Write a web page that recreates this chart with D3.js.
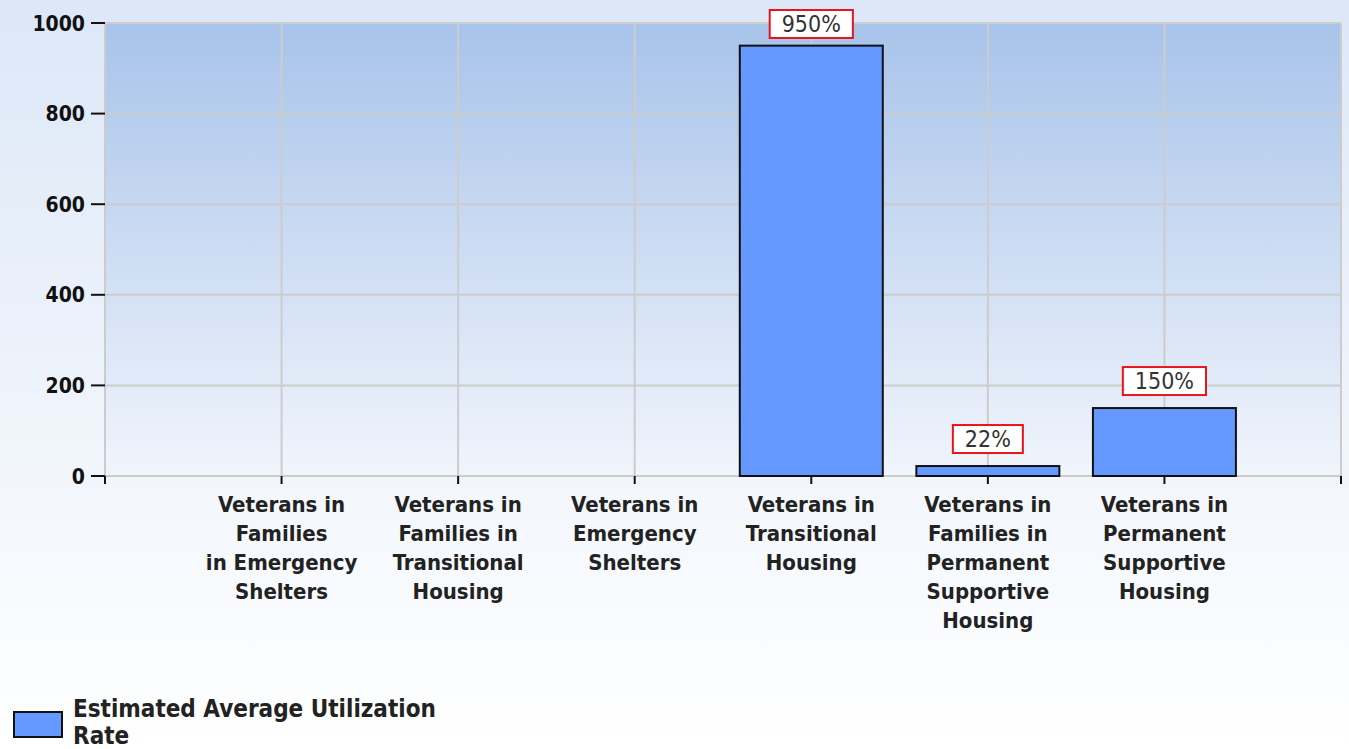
<!DOCTYPE html>
<html>
<head>
<meta charset="utf-8">
<style>
  html, body { margin: 0; padding: 0; }
  svg text { font-family: "DejaVu Sans Condensed", "DejaVu Sans", sans-serif; }
</style>
</head>
<body>
<svg width="1349" height="749"></svg>
<script src="https://d3js.org/d3.v7.min.js"></script>
<script>
const categories = [
  ["Veterans in", "Families", "in Emergency", "Shelters"],
  ["Veterans in", "Families in", "Transitional", "Housing"],
  ["Veterans in", "Emergency", "Shelters"],
  ["Veterans in", "Transitional", "Housing"],
  ["Veterans in", "Families in", "Permanent", "Supportive", "Housing"],
  ["Veterans in", "Permanent", "Supportive", "Housing"]
];
const values = [null, null, null, 950, 22, 150];
const valueLabels = ["", "", "", "950%", "22%", "150%"];
const yTicks = [0, 200, 400, 600, 800, 1000];
const seriesName = ["Estimated Average Utilization", "Rate"];

const svg = d3.select("svg");
const width = +svg.attr("width");
const height = +svg.attr("height");

const defs = svg.append("defs");
const bgGrad = defs.append("linearGradient").attr("id", "bg")
  .attr("x1", 0).attr("y1", 0).attr("x2", 0).attr("y2", 1);
bgGrad.append("stop").attr("offset", "0%").attr("stop-color", "#dce7f7");
bgGrad.append("stop").attr("offset", "100%").attr("stop-color", "#ffffff");
const plotGrad = defs.append("linearGradient").attr("id", "plotbg")
  .attr("x1", 0).attr("y1", 0).attr("x2", 0).attr("y2", 1);
plotGrad.append("stop").attr("offset", "0%").attr("stop-color", "#a8c3ea");
plotGrad.append("stop").attr("offset", "100%").attr("stop-color", "#f1f5fc");

svg.append("rect").attr("width", width).attr("height", height).attr("fill", "url(#bg)");

const pLeft = 105, pRight = 1341, pTop = 23, pBottom = 476;

const x = d3.scaleLinear().domain([0, categories.length + 1]).range([pLeft, pRight]);
const y = d3.scaleLinear().domain([0, 1000]).range([pBottom, pTop]);

svg.append("rect")
  .attr("x", pLeft).attr("y", pTop)
  .attr("width", pRight - pLeft).attr("height", pBottom - pTop)
  .attr("fill", "url(#plotbg)");

// grid
const grid = svg.append("g").attr("stroke", "#cccccc").attr("stroke-width", 2);
grid.selectAll(".h").data(yTicks).enter().append("line")
  .attr("x1", pLeft).attr("x2", pRight)
  .attr("y1", d => y(d)).attr("y2", d => y(d));
grid.selectAll(".v").data(d3.range(0, categories.length + 2)).enter().append("line")
  .attr("x1", d => x(d)).attr("x2", d => x(d))
  .attr("y1", pTop).attr("y2", pBottom);

// bars
const barW = 143;
const bars = categories.map((c, i) => ({ i: i + 1, v: values[i], label: valueLabels[i] }))
  .filter(d => d.v != null);

svg.append("g").selectAll("rect").data(bars).enter().append("rect")
  .attr("x", d => x(d.i) - barW / 2)
  .attr("y", d => y(d.v))
  .attr("width", barW)
  .attr("height", d => y(0) - y(d.v))
  .attr("fill", "#6699ff")
  .attr("stroke", "#111")
  .attr("stroke-width", 2);

// value labels (kept inside the top of the chart)
const lab = svg.append("g").selectAll("g").data(bars).enter().append("g")
  .attr("transform", d => `translate(${x(d.i)},${Math.max(y(d.v) - 27, 24)})`);
const labRect = lab.append("rect")
  .attr("y", -14)
  .attr("height", 28)
  .attr("fill", "#fff")
  .attr("stroke", "#e8141c")
  .attr("stroke-width", 2);
const labText = lab.append("text")
  .attr("text-anchor", "middle")
  .attr("dy", "0.36em")
  .attr("font-size", 23)
  .attr("fill", "#333")
  .text(d => d.label);
labText.each(function (d) { d.tw = this.getComputedTextLength(); });
labRect.attr("x", d => -(d.tw + 24) / 2).attr("width", d => d.tw + 24);

// y axis
const yAxis = svg.append("g");
yAxis.selectAll("line").data(yTicks).enter().append("line")
  .attr("x1", pLeft - 14).attr("x2", pLeft)
  .attr("y1", d => y(d)).attr("y2", d => y(d))
  .attr("stroke", "#111").attr("stroke-width", 2);
yAxis.selectAll("text").data(yTicks).enter().append("text")
  .attr("x", pLeft - 20).attr("y", d => y(d))
  .attr("dy", "0.36em")
  .attr("text-anchor", "end")
  .attr("font-size", 21)
  .attr("font-weight", "bold")
  .attr("fill", "#111")
  .text(d => d);

// x axis ticks
const xAxis = svg.append("g");
xAxis.selectAll("line").data(d3.range(0, categories.length + 2)).enter().append("line")
  .attr("x1", d => x(d)).attr("x2", d => x(d))
  .attr("y1", pBottom).attr("y2", pBottom + 8)
  .attr("stroke", "#111").attr("stroke-width", 2);

const catText = xAxis.selectAll("text").data(categories).enter().append("text")
  .attr("x", (d, i) => x(i + 1)).attr("y", 512)
  .attr("text-anchor", "middle")
  .attr("font-size", 22)
  .attr("font-weight", "bold")
  .attr("fill", "#222");
catText.selectAll("tspan").data(d => d).enter().append("tspan")
  .attr("x", function () { return this.parentNode.getAttribute("x"); })
  .attr("dy", (d, i) => i === 0 ? 0 : 29)
  .text(d => d);

// legend
const legend = svg.append("g");
legend.append("rect")
  .attr("x", 14).attr("y", 712).attr("width", 48).attr("height", 25)
  .attr("fill", "#6699ff").attr("stroke", "#111").attr("stroke-width", 2);
legend.append("text")
  .attr("x", 73).attr("y", 717)
  .attr("font-size", 24)
  .attr("font-weight", "bold")
  .attr("fill", "#222")
  .selectAll("tspan").data(seriesName).enter().append("tspan")
  .attr("x", 73).attr("dy", (d, i) => i === 0 ? 0 : 27)
  .text(d => d);
</script>
</body>
</html>
